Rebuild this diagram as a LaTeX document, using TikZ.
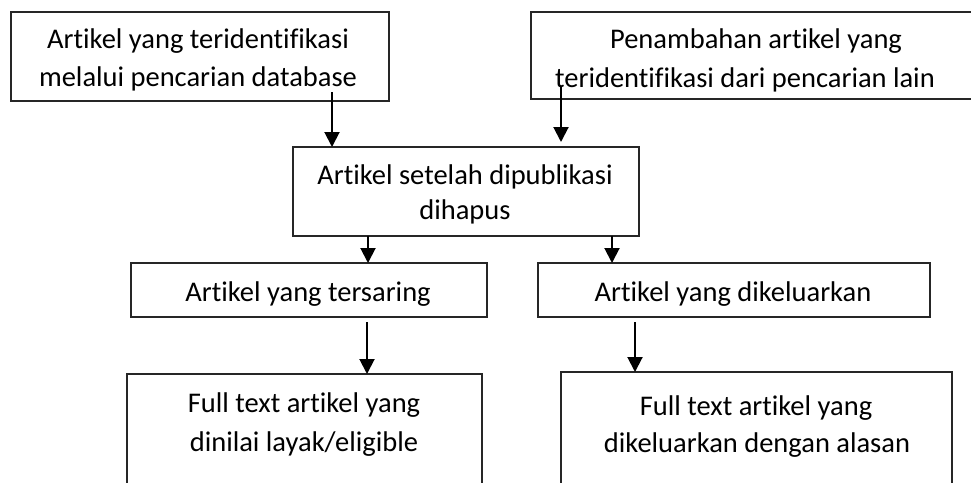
\documentclass[tikz,border=0pt]{standalone}
\usepackage{fontspec}
\setmainfont{Carlito}[Ligatures=NoCommon]
\usetikzlibrary{arrows.meta,calc}
\begin{document}
\begin{tikzpicture}[x=1pt,y=-1pt,
  box/.style={draw=black!85,line width=1.1pt,inner sep=0pt,outer sep=0pt},
  txt/.style={anchor=base,inner sep=0pt,font=\fontsize{28.5}{32}\selectfont},
  arr/.style={line width=2pt,-{Triangle[length=15pt,width=15pt]}}]
\useasboundingbox (0,0) rectangle (971,482);
\clip (0,0) rectangle (971,482);
% boxes
\node[box,minimum width=378pt,minimum height=89pt] (b1) at (200,56.5) {};
\node[box,minimum width=470pt,minimum height=87pt] (b2) at (766,55.5) {};
\node[box,minimum width=346pt,minimum height=89pt] (mid) at (466,191.5) {};
\node[box,minimum width=356pt,minimum height=54pt] (ts) at (309,290) {};
\node[box,minimum width=392pt,minimum height=54pt] (kl) at (734,290) {};
\node[box,minimum width=355pt,minimum height=140pt] (fl) at (304.5,444) {};
\node[box,minimum width=391pt,minimum height=140pt] (fr) at (756.5,442) {};
% texts
\node[txt] (t1a) at (198,48) {Artikel yang teridentifikasi};
\node[txt] (t1b) at (198,86) {melalui pencarian database};
\node[txt] (t2a) at (756,48) {Penambahan artikel yang};
\node[txt] (t2b) at (745,87) {teridentifikasi dari pencarian lain};
\node[txt] (tma) at (465,184) {Artikel setelah dipublikasi};
\node[txt] (tmb) at (465,219) {dihapus};
\node[txt] (tts) at (308,301) {Artikel yang tersaring};
\node[txt] (tkl) at (733,301) {Artikel yang dikeluarkan};
\node[txt] (tfla) at (304,412) {Full text artikel yang};
\node[txt] (tflb) at (304,451) {dinilai layak/eligible};
\node[txt] (tfra) at (756,415) {Full text artikel yang};
\node[txt] (tfrb) at (757,452) {dikeluarkan dengan alasan};
% arrows
\coordinate (x1) at (332,0);
\coordinate (x2) at (561,0);
\coordinate (x3) at (368,0);
\coordinate (x4) at (612,0);
\coordinate (x5) at (367,0);
\coordinate (x6) at (635,0);
\draw[arr] ([yshift=9pt]b1.south -| x1) -- (mid.north -| x1);
\draw[arr] ([yshift=12pt]b2.south -| x2) -- ([yshift=5pt]mid.north -| x2);
\draw[arr] (mid.south -| x3) -- (ts.north -| x3);
\draw[arr] (mid.south -| x4) -- (kl.north -| x4);
\draw[arr] ([yshift=-5pt]ts.south -| x5) -- (fl.north -| x5);
\draw[arr] ([yshift=-5pt]kl.south -| x6) -- (fr.north -| x6);
\end{tikzpicture}
\end{document}
